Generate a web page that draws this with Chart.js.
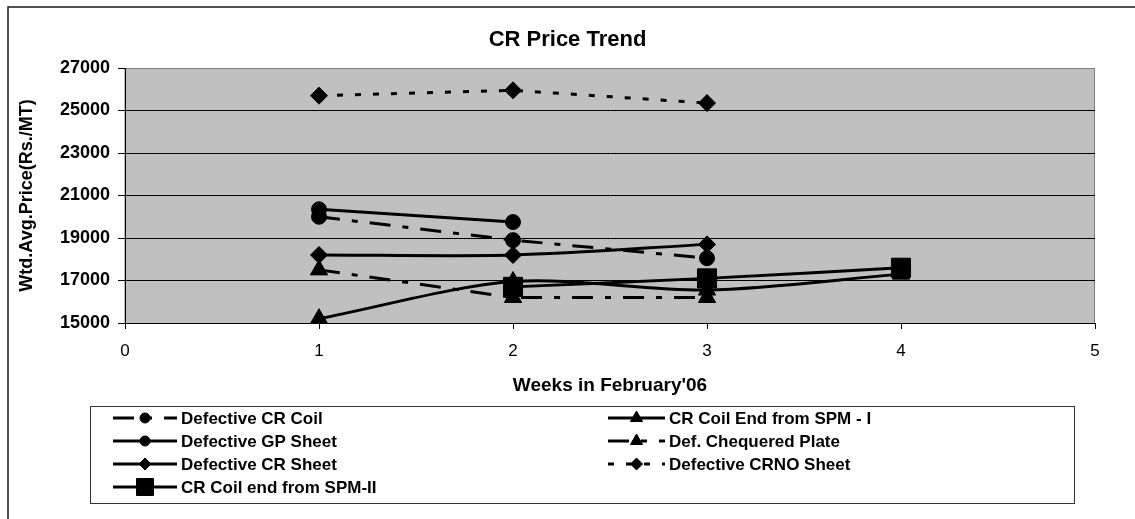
<!DOCTYPE html>
<html>
<head>
<meta charset="utf-8">
<script src="https://cdn.jsdelivr.net/npm/chart.js@4.4.1/dist/chart.umd.min.js"></script>
<style>
  html, body { margin: 0; padding: 0; background: #fff; }
  #wrap { width: 1135px; height: 519px; position: relative; }
</style>
</head>
<body>
<div id="wrap"><canvas id="priceChart"></canvas></div>
<script>
const chartTitle = 'CR Price Trend';
const xTitle = "Weeks in February'06";
const yTitle = 'Wtd.Avg.Price(Rs./MT)';

const weeks = [1, 2, 3, 4];
const xTicks = [0, 1, 2, 3, 4, 5];
const yTicks = [15000, 17000, 19000, 21000, 23000, 25000, 27000];

// values per week, null where a series has no point
const defectiveCrCoil = [20000, 18900, 18050, null];
const crCoilEndSpm1 = [15200, 16950, 16550, 17300];
const defectiveGpSheet = [20350, 19750, null, null];
const defChequeredPlate = [17500, 16200, 16200, null];
const defectiveCrSheet = [18200, 18200, 18700, null];
const defectiveCrnoSheet = [25700, 25950, 25350, null];
const crCoilEndSpm2 = [null, 16700, 17100, 17600];

const FONT = "'Liberation Sans', Arial, sans-serif";

function toPoints(values) {
  return weeks
    .map((w, i) => (values[i] == null ? null : { x: w, y: values[i] }))
    .filter(Boolean);
}

function series(label, values, style, radius, legendRadius, dash, tension) {
  return {
    label,
    data: toPoints(values),
    borderColor: '#000',
    backgroundColor: '#000',
    borderWidth: 3,
    borderDash: dash,
    pointStyle: style,
    pointRadius: radius,
    pointHoverRadius: radius,
    pointBorderWidth: 1,
    legendRadius,
    tension
  };
}

const dashDot = [21, 12, 6, 12];
const squareDot = [6, 12];

const datasets = [
  series('Defective CR Coil', defectiveCrCoil, 'circle', 7.5, 5, dashDot, 0),
  series('CR Coil End from SPM - I', crCoilEndSpm1, 'triangle', 10, 7, [], 0.3),
  series('Defective GP Sheet', defectiveGpSheet, 'circle', 7.5, 5, [], 0),
  series('Def. Chequered Plate', defChequeredPlate, 'triangle', 10, 7, dashDot, 0),
  series('Defective CR Sheet', defectiveCrSheet, 'rectRot', 8.5, 6, [], 0.3),
  series('Defective CRNO Sheet', defectiveCrnoSheet, 'rectRot', 8.5, 6, squareDot, 0),
  series('CR Coil end from SPM-II', crCoilEndSpm2, 'rect', 13.5, 12, [], 0.3)
];

const frame = {
  id: 'frame',
  beforeDraw(chart) {
    const { ctx, chartArea: a } = chart;
    ctx.save();
    ctx.fillStyle = '#fff';
    ctx.fillRect(0, 0, chart.width, chart.height);
    ctx.strokeStyle = '#1a1a1a';
    ctx.lineWidth = 1.5;
    ctx.strokeRect(8, 7, chart.width + 20, chart.height + 20);
    ctx.fillStyle = '#c0c0c0';
    ctx.fillRect(a.left, a.top, a.width, a.height);
    ctx.strokeStyle = '#808080';
    ctx.lineWidth = 1;
    ctx.strokeRect(a.left, a.top + 0.5, a.width - 0.5, a.height);
    ctx.fillStyle = '#000';
    ctx.font = 'bold 22px ' + FONT;
    ctx.textAlign = 'center';
    ctx.textBaseline = 'middle';
    ctx.fillText(chartTitle, chart.width / 2, 40);
    ctx.restore();
  }
};

// two column legend box under the axis title
const gridLegend = {
  id: 'gridLegend',
  afterDraw(chart) {
    const ctx = chart.ctx;
    const box = { left: 90, top: 406, right: 1074, bottom: 503 };
    const cols = [{ x: 113, len: 64 }, { x: 608, len: 57 }];
    const rowY = [418, 441, 464, 487];
    ctx.save();
    ctx.strokeStyle = '#333';
    ctx.lineWidth = 1;
    ctx.strokeRect(box.left + 0.5, box.top + 0.5, box.right - box.left, box.bottom - box.top);
    chart.data.datasets.forEach((ds, i) => {
      const col = cols[i % 2];
      const y = rowY[Math.floor(i / 2)];
      ctx.strokeStyle = '#000';
      ctx.lineWidth = 3;
      ctx.setLineDash(ds.borderDash || []);
      ctx.beginPath();
      ctx.moveTo(col.x, y);
      ctx.lineTo(col.x + col.len, y);
      ctx.stroke();
      ctx.setLineDash([]);
      ctx.fillStyle = '#000';
      ctx.lineWidth = 1;
      Chart.helpers.drawPoint(ctx, {
        pointStyle: ds.pointStyle,
        radius: ds.legendRadius,
        rotation: 0,
        borderWidth: 1
      }, col.x + col.len / 2, y);
      ctx.font = 'bold 17px ' + FONT;
      ctx.textAlign = 'left';
      ctx.textBaseline = 'middle';
      ctx.fillText(ds.label, col.x + col.len + 4, y + 1);
    });
    ctx.restore();
  }
};

new Chart(document.getElementById('priceChart'), {
  type: 'line',
  data: { datasets },
  plugins: [frame, gridLegend],
  options: {
    responsive: true,
    maintainAspectRatio: false,
    animation: false,
    events: [],
    layout: { padding: { left: 8, right: 40, top: 68, bottom: 122 } },
    plugins: {
      legend: { display: false },
      title: { display: false },
      tooltip: { enabled: false }
    },
    scales: {
      x: {
        type: 'linear',
        min: xTicks[0],
        max: xTicks[xTicks.length - 1],
        afterBuildTicks: s => { s.ticks = xTicks.map(v => ({ value: v })); },
        afterFit: s => { s.height = 519 - 122 - 323; },
        grid: { drawOnChartArea: false, drawTicks: true, tickLength: 6, color: '#000', tickColor: '#000' },
        border: { color: '#000', width: 1 },
        ticks: { color: '#000', padding: 12, font: { family: FONT, size: 17 }, callback: v => String(v) },
        title: {
          display: true,
          text: xTitle,
          color: '#000',
          padding: { top: 0, bottom: 0 },
          font: { family: FONT, size: 19, weight: 'bold' }
        }
      },
      y: {
        min: yTicks[0],
        max: yTicks[yTicks.length - 1],
        afterBuildTicks: s => { s.ticks = yTicks.map(v => ({ value: v })); },
        afterFit: s => { s.width = 125 - 8; },
        grid: {
          color: c => (c.tick && c.tick.value === yTicks[yTicks.length - 1] ? '#808080' : '#000'),
          tickColor: '#000',
          tickLength: 7,
          lineWidth: 1
        },
        border: { color: '#000', width: 1 },
        ticks: { color: '#000', padding: 8, font: { family: FONT, size: 18, weight: 'bold' }, callback: v => String(v) },
        title: {
          display: true,
          text: yTitle,
          color: '#000',
          padding: { top: 8, bottom: 0 },
          font: { family: FONT, size: 18, weight: 'bold' }
        }
      }
    }
  }
});
</script>
</body>
</html>
